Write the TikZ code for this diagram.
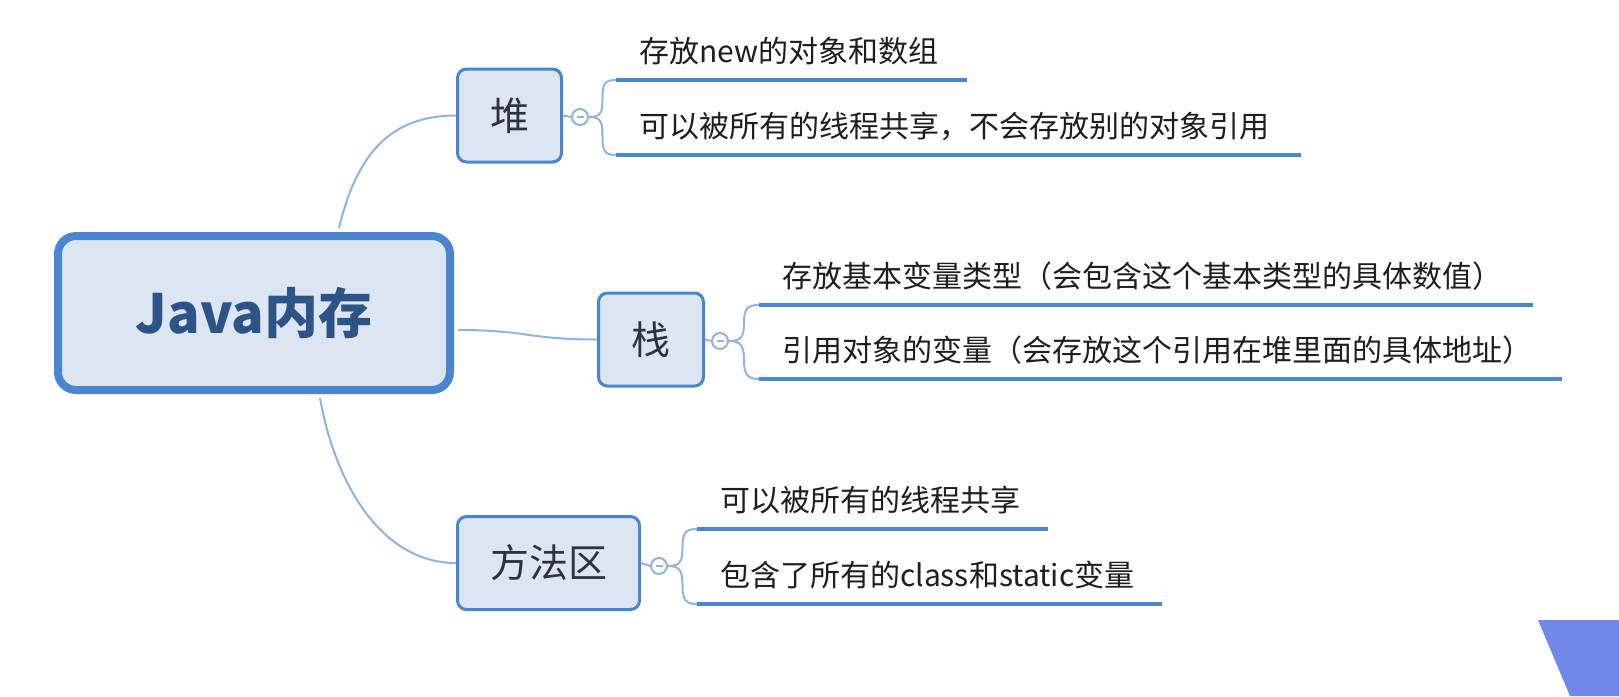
\documentclass[tikz,border=0pt]{standalone}
\usepackage{fontspec}
\newfontfamily\cjk{Noto Sans CJK SC}
\usetikzlibrary{calc}
\definecolor{boxborder}{RGB}{74,134,207}
\definecolor{boxfill}{RGB}{220,230,242}
\definecolor{linkcol}{RGB}{143,180,226}
\definecolor{maintext}{RGB}{44,84,135}
\definecolor{subtext}{RGB}{45,50,62}
\definecolor{leaftext}{RGB}{30,30,30}
\definecolor{corner}{RGB}{114,137,233}
\tikzset{
  mainbox/.style={draw=boxborder, line width=8pt, fill=boxfill, rounded corners=18pt,
    minimum width=392pt, minimum height=154pt, inner sep=0pt,
    font=\cjk\bfseries\fontsize{54}{60}\selectfont, text=maintext},
  subbox/.style={draw=boxborder, line width=3pt, fill=boxfill, rounded corners=9pt,
    minimum height=93pt, inner sep=0pt,
    font=\cjk\fontsize{39}{44}\selectfont, text=subtext},
  fold/.style={circle, draw=linkcol, line width=2pt, fill=white, minimum size=16pt, inner sep=0pt},
  leaf/.style={anchor=south west, inner xsep=23pt, inner ysep=0pt, align=left,
    text height=22pt, text depth=17pt, text=leaftext,
    font=\cjk\fontsize{30}{34}\selectfont},
  uline/.style={draw=boxborder, line width=4.5pt},
  link/.style={draw=linkcol, line width=2pt},
}
\begin{document}
\begin{tikzpicture}[x=1pt,y=-1pt]
\useasboundingbox (0,0) rectangle (1619,696);
\fill[white] (0,0) rectangle (1619,696);

\node[mainbox] (main) at (254,313) {Java内存};

\node[subbox, minimum width=104pt] (heap) at (509.5,115.5) {堆};
\node[subbox, minimum width=105pt] (stack) at (651,339.5) {栈};
\node[subbox, minimum width=182pt] (method) at (548.5,563) {方法区};

\node[fold] (fh) at (580,117) {};
\node[fold] (fs) at (720,341) {};
\node[fold] (fm) at (659,566) {};
\foreach \f in {fh,fs,fm}{
  \draw[link] ($(\f.center)+(-3.5,0)$) -- ($(\f.center)+(3.5,0)$);
}

% leaves
\node[leaf, text width=305pt] (h1) at (616,80) {存放new的对象和数组};
\node[leaf, text width=639pt] (h2) at (616,155) {可以被所有的线程共享，不会存放别的对象引用};
\node[leaf, text width=728pt] (s1) at (759,305) {存放基本变量类型（会包含这个基本类型的具体数值）};
\node[leaf, text width=757pt] (s2) at (759,379) {引用对象的变量（会存放这个引用在堆里面的具体地址）};
\node[leaf, text width=305pt] (m1) at (697,529) {可以被所有的线程共享};
\node[leaf, text width=419pt] (m2) at (697,604) {包含了所有的class和static变量};

\foreach \n in {h1,h2,s1,s2,m1,m2}{
  \draw[uline] (\n.south west) -- (\n.south east);
}

% main links
\draw[link] ($(main.north)+(85,-4)$) .. controls +(18,-75) and +(-65,0) .. (heap.west);
\draw[link] ($(main.east)+(4,17)$) .. controls +(70,0) and +(-70,0) .. (stack.west);
\draw[link] ($(main.south)+(66,4)$) .. controls +(15,85) and +(-75,0) .. (method.west);

% box to fold
\draw[link] (heap.east) -- (fh.west);
\draw[link] (stack.east) -- (fs.west);
\draw[link] (method.east) -- (fm.west);

% fold to leaves
\foreach \f/\a/\b in {fh/h1/h2, fs/s1/s2, fm/m1/m2}{
  \coordinate (ma) at ($(\f.east)!0.5!(\a.south west)$);
  \coordinate (mb) at ($(\f.east)!0.5!(\b.south west)$);
  \draw[link] (\f.east) .. controls +(12,0) and +(0,14) .. (ma) .. controls +(0,-14) and +(-12,0) .. (\a.south west);
  \draw[link] (\f.east) .. controls +(12,0) and +(0,-14) .. (mb) .. controls +(0,14) and +(-12,0) .. (\b.south west);
}

\fill[corner] (1538,620) -- (1619,620) -- (1619,696) -- (1570,696) -- cycle;
\end{tikzpicture}
\end{document}
